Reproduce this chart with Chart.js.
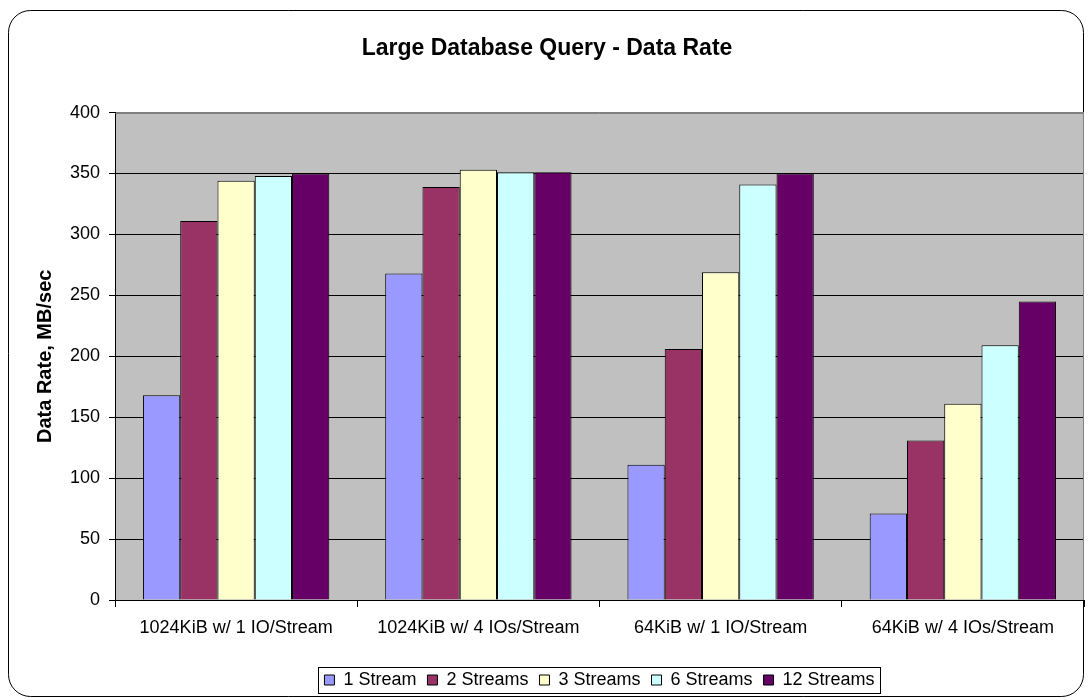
<!DOCTYPE html>
<html>
<head>
<meta charset="utf-8">
<script src="https://cdn.jsdelivr.net/npm/chart.js@4"></script>
<style>
  html, body { margin: 0; padding: 0; background: #fff; }
  #wrap { width: 1090px; height: 700px; position: relative; }
</style>
</head>
<body>
<div id="wrap"><canvas id="c" width="1090" height="700"></canvas></div>
<script>
const categories = ["1024KiB w/ 1 IO/Stream", "1024KiB w/ 4 IOs/Stream", "64KiB w/ 1 IO/Stream", "64KiB w/ 4 IOs/Stream"];
const seriesNames = ["1 Stream", "2 Streams", "3 Streams", "6 Streams", "12 Streams"];
const stream1 = [168, 268, 111, 71];
const stream2 = [311, 339, 206, 131];
const stream3 = [344, 353, 269, 161];
const stream6 = [348, 351, 341, 209];
const stream12 = [350, 351, 350, 245];
const yTicks = [0, 50, 100, 150, 200, 250, 300, 350, 400];
const chartTitle = "Large Database Query - Data Rate";
const yTitle = "Data Rate, MB/sec";

const colors = ["#9999FF", "#993366", "#FFFFCC", "#CCFFFF", "#660066"];
const seriesValues = [stream1, stream2, stream3, stream6, stream12];
const FONT = "'Liberation Sans', Arial, sans-serif";

const frameAndBg = {
  id: 'frameAndBg',
  beforeDraw(chart) {
    const ctx = chart.ctx;
    ctx.save();
    ctx.fillStyle = '#fff';
    ctx.fillRect(0, 0, chart.width, chart.height);
    ctx.strokeStyle = '#000';
    ctx.lineWidth = 1;
    ctx.beginPath();
    ctx.roundRect(8.5, 10.5, 1075, 686, 22);
    ctx.stroke();
    const a = chart.chartArea;
    ctx.fillStyle = '#C0C0C0';
    ctx.fillRect(a.left, a.top, a.right - a.left, a.bottom - a.top);
    ctx.restore();
  },
  afterDraw(chart) {
    const ctx = chart.ctx;
    const a = chart.chartArea;
    ctx.save();
    ctx.strokeStyle = '#808080';
    ctx.lineWidth = 1;
    ctx.beginPath();
    ctx.moveTo(Math.round(a.left) + 0.5, Math.round(a.top) + 0.5);
    ctx.lineTo(Math.round(a.right) - 0.5, Math.round(a.top) + 0.5);
    ctx.lineTo(Math.round(a.right) - 0.5, Math.round(a.bottom));
    ctx.stroke();
    const lg = chart.legend;
    if (lg && lg.legendHitBoxes && lg.legendHitBoxes.length) {
      const hb = lg.legendHitBoxes;
      const left = hb[0].left - 6;
      const right = hb[hb.length - 1].left + hb[hb.length - 1].width + 6;
      const cy = hb[0].top + hb[0].height / 2;
      ctx.strokeStyle = '#000';
      ctx.strokeRect(Math.round(left) + 0.5, Math.round(cy - 13) + 0.5, Math.round(right - left), 26);
    }
    ctx.restore();
  }
};

new Chart(document.getElementById('c'), {
  type: 'bar',
  data: {
    labels: categories,
    datasets: seriesNames.map((n, i) => ({
      label: n,
      data: seriesValues[i],
      backgroundColor: colors[i],
      borderColor: '#000',
      borderWidth: 1,
      categoryPercentage: 5 / 6.5,
      barPercentage: 1.0
    }))
  },
  options: {
    responsive: false,
    animation: false,
    devicePixelRatio: 1,
    layout: { padding: { left: 10, right: 6, top: 10, bottom: 1 } },
    plugins: {
      title: {
        display: true,
        text: chartTitle,
        color: '#000',
        font: { family: FONT, size: 23, weight: 'bold' },
        padding: { top: 25, bottom: 50 }
      },
      legend: {
        display: true,
        position: 'bottom',
        fullSize: false,
        labels: {
          color: '#000',
          font: { family: FONT, size: 18 },
          boxWidth: 10,
          boxHeight: 10,
          padding: 11,
          generateLabels(chart) {
            return chart.data.datasets.map((d, i) => ({
              text: d.label,
              fillStyle: d.backgroundColor,
              strokeStyle: '#000',
              lineWidth: 1,
              hidden: false,
              datasetIndex: i,
              fontColor: '#000'
            }));
          }
        }
      },
      tooltip: { enabled: false }
    },
    scales: {
      x: {
        afterFit(scale) { scale.height = 60; },
        grid: {
          display: true,
          drawOnChartArea: false,
          drawTicks: true,
          tickLength: 7,
          color: '#000',
          tickColor: '#000'
        },
        border: { display: true, color: '#000', width: 1 },
        ticks: {
          color: '#000',
          font: { family: FONT, size: 18 },
          padding: 10,
          maxRotation: 0,
          autoSkip: false
        }
      },
      y: {
        min: 0,
        max: 400,
        afterFit(scale) { scale.width = 105; },
        afterBuildTicks(scale) { scale.ticks = yTicks.map(v => ({ value: v })); },
        grid: {
          display: true,
          drawTicks: true,
          tickLength: 6,
          color: (ctx) => (ctx.tick && ctx.tick.value === 400) ? '#808080' : '#000',
          tickColor: '#000',
          lineWidth: 1
        },
        border: { display: true, color: '#000', width: 1 },
        ticks: {
          color: '#000',
          font: { family: FONT, size: 18 },
          padding: 9
        },
        title: {
          display: true,
          text: yTitle,
          color: '#000',
          font: { family: FONT, size: 20, weight: 'bold' },
          padding: { top: 23, bottom: 0 }
        }
      }
    }
  },
  plugins: [frameAndBg]
});
</script>
</body>
</html>
